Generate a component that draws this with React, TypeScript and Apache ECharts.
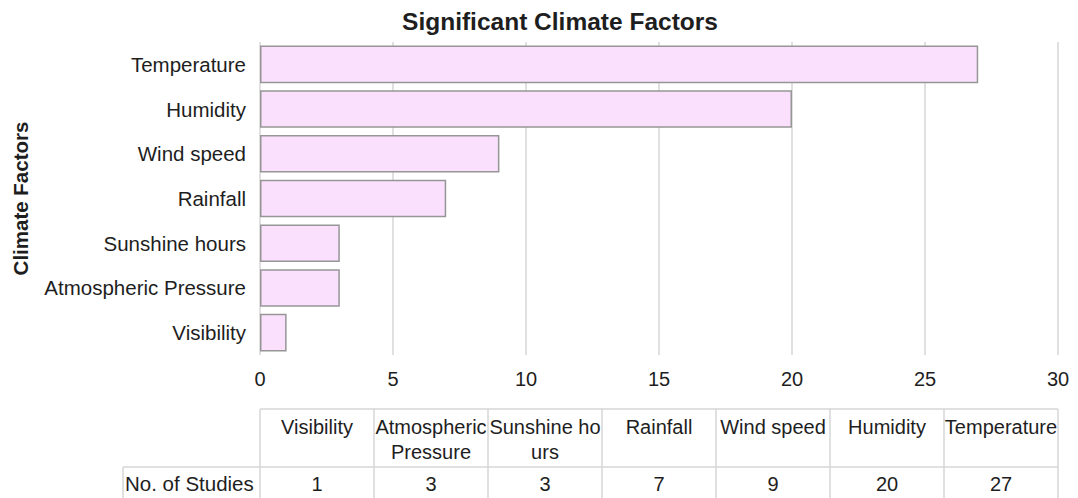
import React, { useEffect, useRef } from "react";
import * as echarts from "echarts";

const categories = [
  "Visibility",
  "Atmospheric Pressure",
  "Sunshine hours",
  "Rainfall",
  "Wind speed",
  "Humidity",
  "Temperature",
];
const studies = [1, 3, 3, 7, 9, 20, 27];
const tableHeaders = [
  "Visibility",
  "Atmospheric\nPressure",
  "Sunshine ho\nurs",
  "Rainfall",
  "Wind speed",
  "Humidity",
  "Temperature",
];
const rowLabel = "No. of Studies";
const xTicks = { min: 0, max: 30, interval: 5 };

const FONT = "Liberation Sans, Arial, sans-serif";
const TEXT = "#1e1e1e";
const LINE = "#d6d6d6";

export default function App() {
  const ref = useRef<HTMLDivElement>(null);

  useEffect(() => {
    document.body.style.margin = "0";
    const chart = echarts.init(ref.current!, undefined, { renderer: "svg" });
    const gridLeft = 260;
    const gridRight = 20;
    const gridTop = 42;
    const gridBottom = 143;

    const option: any = {
      animation: false,
      backgroundColor: "#ffffff",
      textStyle: { fontFamily: FONT },
      title: {
        text: "Significant Climate Factors",
        left: 560,
        textAlign: "center",
        top: 9,
        padding: 0,
        textStyle: { fontFamily: FONT, fontSize: 24.5, fontWeight: "bold", color: TEXT },
      },
      grid: {
        left: gridLeft,
        right: gridRight,
        top: gridTop,
        bottom: gridBottom,
        outerBoundsMode: "none",
        containLabel: false,
      },
      xAxis: {
        type: "value",
        min: xTicks.min,
        max: xTicks.max,
        interval: xTicks.interval,
        axisLine: { show: false },
        axisTick: { show: false },
        axisLabel: { fontFamily: FONT, fontSize: 20, color: TEXT, margin: 14 },
        splitLine: { show: true, lineStyle: { color: LINE, width: 1.5 } },
      },
      yAxis: {
        type: "category",
        data: categories,
        name: "Climate Factors",
        nameLocation: "middle",
        nameGap: 229,
        nameRotate: 90,
        nameTextStyle: { fontFamily: FONT, fontSize: 20.5, fontWeight: "bold", color: TEXT },
        axisLine: { show: false },
        axisTick: { show: false },
        axisLabel: { fontFamily: FONT, fontSize: 20.5, color: TEXT, margin: 14 },
        splitLine: { show: false },
      },
      series: [
        {
          type: "bar",
          data: studies,
          barCategoryGap: "16%",
          itemStyle: { color: "#fae0fc", borderColor: "#969696", borderWidth: 1.5 },
        },
      ],
    };
    chart.setOption(option);

    const x0 = chart.convertToPixel({ xAxisIndex: 0 }, xTicks.min) as number;
    const x1 = chart.convertToPixel({ xAxisIndex: 0 }, xTicks.max) as number;
    const colW = (x1 - x0) / categories.length;
    const tableTop = 409;
    const rowSplit = 467;
    const tableBottom = 498;
    const firstColLeft = 123;

    const els: any[] = [];
    const lineStyle = { stroke: LINE, lineWidth: 1.5 };
    els.push({ type: "line", shape: { x1: x0, y1: tableTop, x2: x1, y2: tableTop }, style: lineStyle });
    els.push({ type: "line", shape: { x1: firstColLeft, y1: rowSplit, x2: x1, y2: rowSplit }, style: lineStyle });
    els.push({ type: "line", shape: { x1: firstColLeft, y1: rowSplit, x2: firstColLeft, y2: tableBottom }, style: lineStyle });
    for (let i = 0; i <= categories.length; i++) {
      const x = x0 + i * colW;
      els.push({ type: "line", shape: { x1: x, y1: tableTop, x2: x, y2: tableBottom }, style: lineStyle });
    }
    tableHeaders.forEach((h, i) => {
      els.push({
        type: "text",
        x: x0 + (i + 0.5) * colW,
        y: tableTop + 5,
        style: {
          text: h,
          fontFamily: FONT,
          fontSize: 20,
          fill: TEXT,
          textAlign: "center",
          textVerticalAlign: "top",
          lineHeight: 25,
        },
      });
    });
    els.push({
      type: "text",
      x: firstColLeft + 2,
      y: (rowSplit + tableBottom) / 2 + 1,
      style: { text: rowLabel, fontFamily: FONT, fontSize: 20.5, fill: TEXT, textAlign: "left", textVerticalAlign: "middle" },
    });
    studies.forEach((v, i) => {
      els.push({
        type: "text",
        x: x0 + (i + 0.5) * colW,
        y: (rowSplit + tableBottom) / 2 + 1,
        style: { text: String(v), fontFamily: FONT, fontSize: 20, fill: TEXT, textAlign: "center", textVerticalAlign: "middle" },
      });
    });
    chart.setOption({ graphic: { elements: els } });

    return () => chart.dispose();
  }, []);

  return <div ref={ref} style={{ width: 1078, height: 498 }} />;
}
